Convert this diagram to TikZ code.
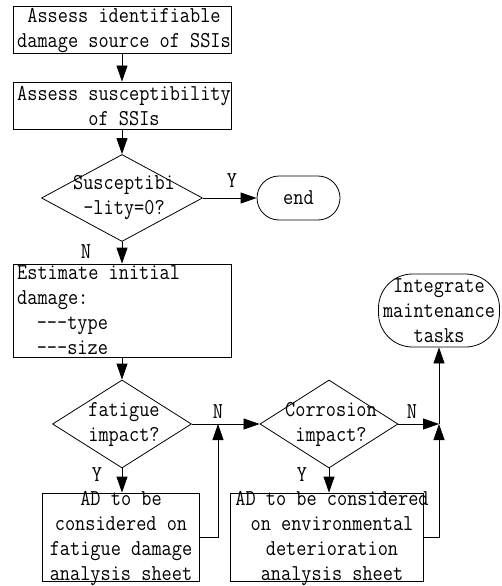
\documentclass[tikz,border=0pt]{standalone}
\usepackage{fontspec}
\setmonofont{Latin Modern Mono}[FakeStretch=0.87]
\usetikzlibrary{arrows.meta,shapes.geometric}
\tikzset{
	proc/.style={draw, line width=0.8pt, inner sep=0pt},
	dec/.style={draw, diamond, line width=0.8pt, inner sep=0pt},
	txt/.style={inner sep=0pt, align=center, font=\ttfamily\fontsize{22.7}{25}\selectfont},
	flow/.style={line width=0.8pt, -{Triangle[length=16pt,width=11pt]}}
}

\begin{document}
\begin{tikzpicture}[x=1pt, y=-1pt]
		%%%%% START %%%%%
		\useasboundingbox (0, 0) rectangle (502, 586);
		
		% boxes
		\node[proc, minimum width=218pt, minimum height=47pt] (src) at (122, 29.5) {};
		\node[txt] (src-t) at (124, 30.5) {Assess identifiable\\damage source of SSIs};
		
		\node[proc, minimum width=218pt, minimum height=47pt] (sus) at (122, 105.5) {};
		\node[txt] (sus-t) at (124, 106) {Assess susceptibility\\of SSIs};
		
		\node[dec, minimum width=161pt, minimum height=87pt] (zero) at (122, 198) {};
		\node[txt] (zero-t) at (124, 197.5) {Susceptibi\\-lity=0?};
		
		\node[proc, rounded corners=22pt, minimum width=83pt, minimum height=44pt] (end) at (298.5, 198) {};
		\node[txt] (end-t) at (298.5, 198) {end};
		
		\node[proc, minimum width=218pt, minimum height=93pt] (init) at (122, 310.5) {};
		\node[txt, anchor=west, align=left] (init-t) at (17, 310.5) {Estimate initial\\damage:\\\hspace*{2ex}-{}-{}-type\\\hspace*{2ex}-{}-{}-size};
		
		\node[dec, minimum width=139pt, minimum height=88pt] (fat) at (122, 424) {};
		\node[txt] (fat-t) at (124, 424.5) {fatigue\\impact?};
		
		\node[dec, minimum width=138pt, minimum height=88pt] (cor) at (329, 424) {};
		\node[txt] (cor-t) at (331, 424.5) {Corrosion\\impact?};
		
		\node[proc, minimum width=157pt, minimum height=88pt] (fsheet) at (120.5, 537) {};
		\node[txt] (fsheet-t) at (121, 538) {AD to be\\considered on\\fatigue damage\\analysis sheet};
		
		\node[proc, minimum width=193pt, minimum height=88pt] (esheet) at (326.5, 537) {};
		\node[txt] (esheet-t) at (332, 538) {AD to be considered\\on environmental\\deterioration\\analysis sheet};
		
		\node[proc, rounded corners=34pt, minimum width=121pt, minimum height=73pt] (maint) at (439, 310.5) {};
		\node[txt] (maint-t) at (439, 311) {Integrate\\maintenance\\tasks};
		
		\coordinate (j1) at (218, 424);
		\coordinate (j2) at (439, 424);
		
		% connectors
		\draw[flow] (src) -- (sus);
		\draw[flow] (sus) -- (zero);
		\draw[flow] (zero) -- (end);
		\draw[flow] (zero) -- (init);
		\draw[flow] (init) -- (fat);
		\draw[flow] (fat) -- (cor);
		\draw[flow] (fat) -- (fat |- fsheet.north);
		\draw[flow] (fsheet) -| (j1);
		\draw[flow] (cor) -- (j2);
		\draw[flow] (cor) -- (cor |- esheet.north);
		\draw[flow] (esheet) -| (j2);
		\draw[flow] (j2) -- (maint);
		
		% labels
		\node[txt] (y1) at (232, 181) {Y};
		\node[txt] (n1) at (86, 252) {N};
		\node[txt] (n2) at (218, 412) {N};
		\node[txt] (y2) at (97, 475) {Y};
		\node[txt] (n3) at (412, 412) {N};
		\node[txt] (y3) at (302, 475) {Y};
		%%%%% END %%%%%
	\end{tikzpicture}
\end{document}
